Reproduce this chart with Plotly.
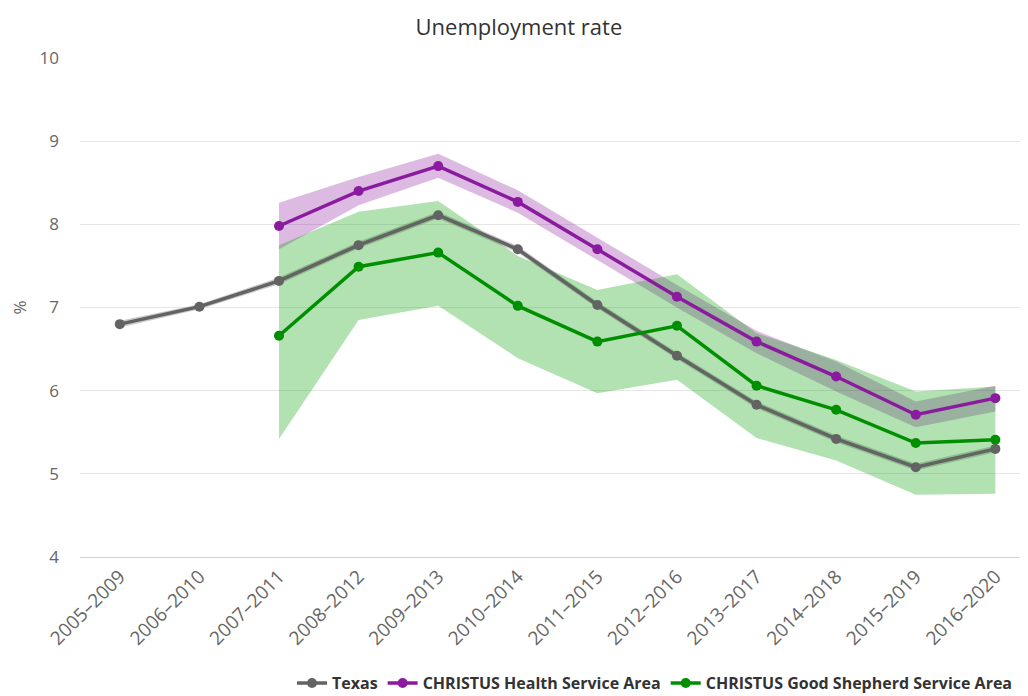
import plotly.graph_objects as go

periods = ["2005–2009", "2006–2010", "2007–2011", "2008–2012", "2009–2013", "2010–2014",
           "2011–2015", "2012–2016", "2013–2017", "2014–2018", "2015–2019", "2016–2020"]

texas = [6.80, 7.01, 7.32, 7.75, 8.11, 7.70, 7.03, 6.42, 5.83, 5.42, 5.08, 5.30]
texas_low = [6.76, 6.98, 7.28, 7.71, 8.07, 7.66, 6.99, 6.38, 5.79, 5.38, 5.04, 5.26]
texas_high = [6.84, 7.04, 7.36, 7.79, 8.15, 7.74, 7.07, 6.46, 5.87, 5.46, 5.12, 5.34]

christus = [None, None, 7.98, 8.40, 8.70, 8.27, 7.70, 7.13, 6.59, 6.17, 5.71, 5.91]
christus_low = [None, None, 7.70, 8.23, 8.56, 8.14, 7.57, 7.00, 6.45, 5.99, 5.56, 5.75]
christus_high = [None, None, 8.26, 8.57, 8.85, 8.41, 7.84, 7.27, 6.72, 6.35, 5.87, 6.06]

shepherd = [None, None, 6.66, 7.49, 7.66, 7.02, 6.59, 6.78, 6.06, 5.77, 5.37, 5.41]
shepherd_low = [None, None, 5.42, 6.85, 7.02, 6.39, 5.97, 6.13, 5.43, 5.16, 4.75, 4.76]
shepherd_high = [None, None, 7.75, 8.15, 8.28, 7.62, 7.21, 7.40, 6.69, 6.37, 5.99, 6.05]

series = [
    ("Texas", texas, texas_low, texas_high, "#636363", "rgba(99,99,99,0.35)"),
    ("CHRISTUS Health Service Area", christus, christus_low, christus_high,
     "#8a1b9f", "rgba(138,27,159,0.3)"),
    ("CHRISTUS Good Shepherd Service Area", shepherd, shepherd_low, shepherd_high,
     "#008f00", "rgba(0,155,0,0.3)"),
]

fig = go.Figure()

# bands
for name, vals, lo, hi, col, fill in series:
    xs = [p for p, v in zip(periods, lo) if v is not None]
    los = [v for v in lo if v is not None]
    his = [v for v in hi if v is not None]
    fig.add_trace(go.Scatter(x=xs, y=los, mode="lines", line=dict(width=0),
                             showlegend=False, hoverinfo="skip"))
    fig.add_trace(go.Scatter(x=xs, y=his, mode="lines", line=dict(width=0),
                             fill="tonexty", fillcolor=fill,
                             showlegend=False, hoverinfo="skip"))

# lines
for name, vals, lo, hi, col, fill in series:
    xs = [p for p, v in zip(periods, vals) if v is not None]
    ys = [v for v in vals if v is not None]
    fig.add_trace(go.Scatter(x=xs, y=ys, mode="lines+markers", name=name,
                             line=dict(color=col, width=3.5),
                             marker=dict(color=col, size=10)))

fig.update_layout(
    width=1028, height=696,
    paper_bgcolor="white", plot_bgcolor="white",
    margin=dict(l=72, r=8, t=50, b=147, autoexpand=False),
    font=dict(family="Open Sans, DejaVu Sans, sans-serif", color="#666666"),
    title=dict(text="Unemployment rate", x=0.497, xanchor="center",
               xref="container", yref="container", y=0.972, yanchor="middle",
               font=dict(size=22, color="#333333")),
    showlegend=True,
    legend=dict(orientation="h", xref="container", x=0.9825, xanchor="right",
                yref="container", y=0.030, yanchor="middle",
                font=dict(size=16, color="#333333", weight="bold"),
                traceorder="normal"),
    xaxis=dict(type="category", categoryorder="array", categoryarray=periods,
               range=[-0.5, 11.41], tickangle=-45, showgrid=False, automargin=False,
               showline=True, linecolor="#ccd6eb", linewidth=1,
               ticks="", tickfont=dict(size=19, color="#666666")),
    yaxis=dict(range=[4, 10], dtick=1, tick0=4, showgrid=True, gridcolor="#e6e6e6",
               zeroline=False, showline=False, ticks="", automargin=False,
               ticklabelstandoff=20,
               tickfont=dict(size=17, color="#666666"),
               title=dict(text="%", font=dict(size=17, color="#666666"), standoff=12)),
)

fig.write_html("out.html")
